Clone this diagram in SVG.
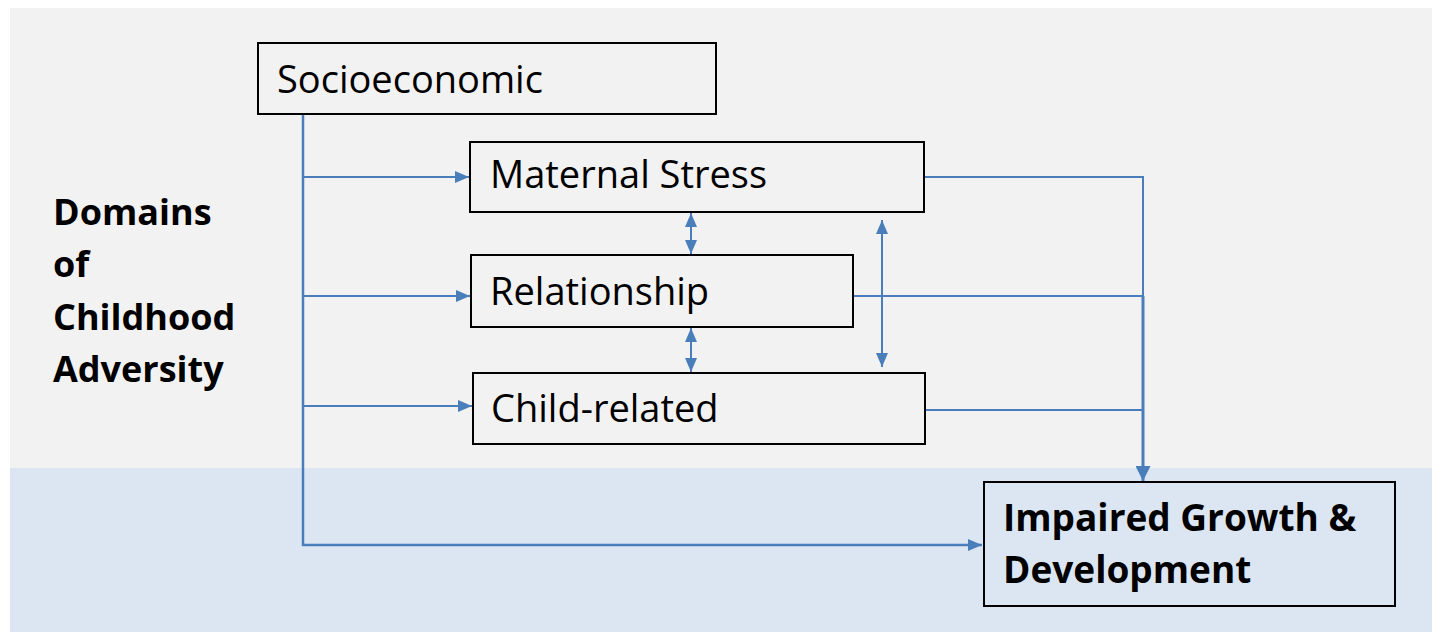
<svg xmlns="http://www.w3.org/2000/svg" width="1432" height="632" viewBox="0 0 1432 632">
<style>
.box{fill:#f2f2f2;stroke:#000;stroke-width:2}
.lbl{font-family:"Open Sans","Noto Sans","Liberation Sans",sans-serif;font-size:38px;fill:#000}
.bold{font-family:"Open Sans","Noto Sans","Liberation Sans",sans-serif;font-weight:bold;font-size:36px;fill:#000}
.con{fill:none;stroke:#4a7ebb;stroke-width:2}
</style>
<defs>
<marker id="ah" markerUnits="userSpaceOnUse" markerWidth="14" markerHeight="12" refX="14" refY="6" orient="auto-start-reverse">
<path d="M0,0 L14,6 L0,12 z" fill="#4a7ebb"/>
</marker>
<marker id="ahb" markerUnits="userSpaceOnUse" markerWidth="15" markerHeight="15" refX="15" refY="7.5" orient="auto">
<path d="M0,0 L15,7.5 L0,15 z" fill="#4a7ebb"/>
</marker>
</defs>
<rect x="0" y="0" width="1432" height="632" fill="#ffffff"/>
<rect x="10" y="8" width="1422" height="460" fill="#f2f2f2"/>
<rect x="10" y="468" width="1422" height="164" fill="#dce6f2"/>
<g id="label-domains">
<text class="bold" x="53" y="225">Domains</text>
<text class="bold" x="53" y="277">of</text>
<text class="bold" x="53" y="330">Childhood</text>
<text class="bold" x="53" y="382">Adversity</text>
</g>
<g id="connectors">
<path class="con" d="M303,114 V545 H982" marker-end="url(#ah)" style="stroke-width:2.5"/>
<path class="con" d="M303,177 H469" marker-end="url(#ah)"/>
<path class="con" d="M303,296 H470" marker-end="url(#ah)"/>
<path class="con" d="M303,406 H472" marker-end="url(#ah)"/>
<path class="con" d="M691,213 V254" marker-start="url(#ah)" marker-end="url(#ah)"/>
<path class="con" d="M691,328 V372" marker-start="url(#ah)" marker-end="url(#ah)"/>
<path class="con" d="M882,220 V367" marker-start="url(#ah)" marker-end="url(#ah)"/>
<path class="con" d="M925,177 H1143 V296"/>
<path class="con" d="M853,296 H1143"/>
<path class="con" d="M926,410 H1143"/>
<path class="con" d="M1143,296 V481" marker-end="url(#ahb)" style="stroke-width:3"/>
</g>
<g id="node-socioeconomic">
<rect class="box" x="258" y="43" width="458" height="71"/>
<text class="lbl" x="277" y="93">Socioeconomic</text>
</g>
<g id="node-maternal">
<rect class="box" x="470" y="142" width="454" height="70"/>
<text class="lbl" x="490" y="188">Maternal Stress</text>
</g>
<g id="node-relationship">
<rect class="box" x="471" y="255" width="382" height="72"/>
<text class="lbl" x="490" y="305">Relationship</text>
</g>
<g id="node-child">
<rect class="box" x="473" y="373" width="452" height="71"/>
<text class="lbl" x="491" y="422">Child-related</text>
</g>
<g id="node-impaired">
<rect class="box" x="984" y="482" width="411" height="124" style="fill:#dce6f2"/>
<text class="bold" x="1003" y="531" style="font-size:37px">Impaired Growth &amp;</text>
<text class="bold" x="1003" y="583" style="font-size:37px">Development</text>
</g>
</svg>
